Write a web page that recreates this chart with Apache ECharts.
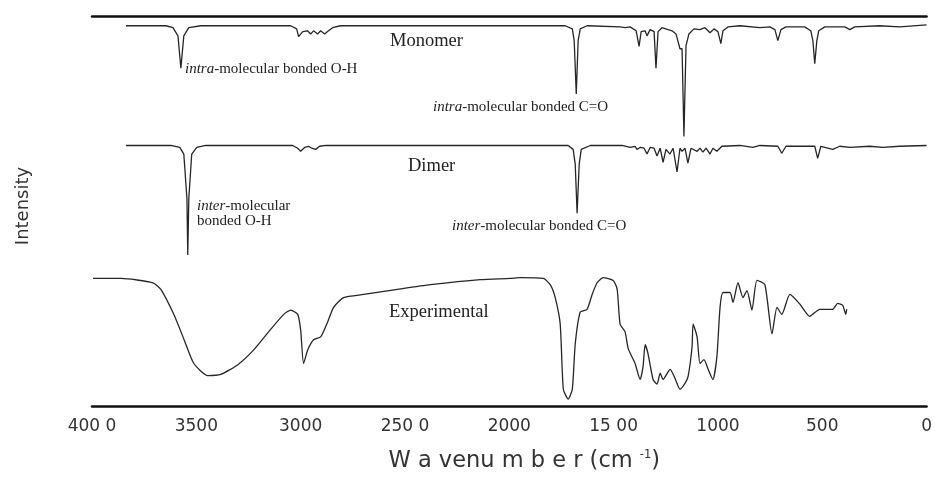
<!DOCTYPE html>
<html>
<head>
<meta charset="utf-8">
<script src="https://cdn.jsdelivr.net/npm/echarts@6/dist/echarts.min.js"></script>
<style>html,body{margin:0;padding:0;background:#fff}#c{width:935px;height:478px}</style>
</head>
<body>
<div id="c"></div>
<script>
// x-axis ticks (wavenumber, cm-1) and the labels as printed in the figure
const tickValues = [0, 500, 1000, 1500, 2000, 2500, 3000, 3500, 4000];
const tickLabels = ['0', '500', '1000', '15 00', '2000', '250 0', '3000', '3500', '400 0'];

// Calculated spectrum: Monomer  [wavenumber, intensity (a.u.)]
const monomer = [
 [3837,97.5],[3646,97.5],[3612,97.0],[3588,94.9],[3574,86.6],[3560,94.9],[3536,97.0],[3478,97.5],
 [3048,97.5],[3019,96.7],[3010,94.7],[2990,96.0],[2967,96.2],[2952,95.4],[2938,96.2],[2919,95.4],
 [2904,96.2],[2885,95.4],[2871,96.0],[2847,97.0],[2809,97.5],
 [1732,97.5],[1698,96.7],[1689,93.7],[1679,80.0],[1670,93.7],[1660,96.7],[1627,97.5],
 [1469,97.2],[1445,97.0],[1421,97.2],[1392,96.2],[1378,92.2],[1368,96.0],[1349,96.2],[1340,94.9],
 [1325,96.5],[1306,96.0],[1297,86.6],[1287,96.0],[1268,97.0],[1239,96.5],[1220,96.2],[1201,95.4],
 [1182,91.6],[1172,91.6],[1163,69.1],[1153,92.4],[1139,95.4],[1115,96.7],[1086,96.5],[1062,97.0],
 [1038,95.7],[1019,96.7],[1000,96.0],[986,92.9],[976,96.2],[952,97.2],[894,97.5],[799,97.0],
 [751,97.2],[727,96.5],[713,93.7],[698,96.5],[674,97.2],[584,97.2],[555,96.2],[545,93.7],
 [536,87.8],[526,93.7],[517,96.2],[488,97.2],[392,97.2],[368,96.5],[344,97.2],[225,97.5],
 [129,97.2],[0,97.7]
];

// Calculated spectrum: Dimer
const dimer = [
 [3837,66.8],[3622,66.8],[3579,66.3],[3560,64.6],[3545,53.2],[3541,38.7],[3536,53.2],[3522,64.6],
 [3498,66.3],[3455,66.8],[3038,66.8],[3014,66.1],[3000,65.3],[2981,66.3],[2962,66.6],[2947,66.1],
 [2928,65.8],[2909,66.6],[2880,66.8],
 [1718,66.8],[1694,65.8],[1684,62.0],[1675,49.4],[1665,62.0],[1655,65.8],[1612,66.8],
 [1459,66.8],[1421,66.3],[1397,66.6],[1388,65.8],[1373,66.3],[1354,66.1],[1340,64.6],[1325,66.3],
 [1306,66.1],[1292,64.1],[1277,66.1],[1263,62.5],[1249,65.8],[1230,64.6],[1215,66.1],[1196,60.0],
 [1182,66.1],[1172,65.3],[1158,66.1],[1144,62.3],[1129,66.1],[1100,65.3],[1086,66.1],[1072,65.1],
 [1057,66.1],[1038,64.6],[1024,66.1],[1005,65.3],[981,66.6],[894,66.8],[833,66.3],[799,66.8],
 [713,66.6],[694,64.8],[674,66.6],[536,66.6],[522,63.5],[507,66.6],[450,65.8],[416,66.6],
 [368,66.3],[273,66.6],[211,66.3],[129,66.6],[0,66.8]
];

// Experimental spectrum
const experimental = [
 [3995,32.7],[3861,32.7],[3708,31.6],[3670,29.9],[3608,23.5],[3560,17.2],[3512,10.9],[3445,7.8],
 [3383,8.1],[3301,10.6],[3225,14.4],[3143,19.7],[3081,23.5],[3048,24.6],[3014,23.5],[3000,19.5],
 [2986,10.9],[2966,14.4],[2938,17.0],[2904,17.7],[2871,21.5],[2842,25.3],[2794,27.8],[2698,28.6],
 [2536,29.9],[2378,31.1],[2139,32.4],[1995,32.7],[1947,32.9],[1837,32.7],[1804,31.1],[1780,27.8],
 [1756,21.0],[1741,4.3],[1718,1.8],[1698,4.3],[1684,15.9],[1660,24.1],[1627,24.8],[1603,28.6],
 [1579,31.6],[1550,32.9],[1502,32.2],[1483,29.9],[1469,21.0],[1445,19.0],[1430,14.7],[1397,10.9],
 [1373,6.8],[1359,10.1],[1349,15.7],[1335,13.4],[1311,6.8],[1292,5.6],[1277,8.4],[1263,6.8],
 [1229,9.4],[1206,7.1],[1182,4.3],[1158,5.8],[1143,7.6],[1124,15.2],[1119,21.0],[1100,17.7],
 [1086,10.9],[1067,11.9],[1047,9.4],[1024,6.8],[1005,12.7],[990,25.3],[976,29.1],[942,29.1],
 [928,26.6],[904,31.6],[880,27.8],[861,29.6],[837,24.6],[813,32.2],[775,31.1],[741,18.5],
 [717,25.3],[694,23.5],[655,28.6],[607,26.1],[560,23.0],[512,24.8],[450,24.8],[426,26.3],
 [402,25.8],[387,23.5],[383,24.8]
];

const chart = echarts.init(document.getElementById('c'), null, {renderer: 'canvas'});
const lineColor = '#262626';
const serif = '"Liberation Serif", "DejaVu Serif", serif';
const sans = '"DejaVu Sans", "Liberation Sans", sans-serif';

function spectrum(name, data, smooth) {
  return {
    name: name, type: 'line', data: data, showSymbol: false, smooth: smooth,
    lineStyle: {color: lineColor, width: 1.3}, silent: true, animation: false
  };
}
function annot(left, top, txt, size) {
  return {type: 'text', left: left, top: top, style: {
    text: txt, fontFamily: serif, fontSize: size, lineHeight: 15, fill: '#222',
    rich: {i: {fontStyle: 'italic', fontFamily: serif, fontSize: size, fill: '#222'}}}};
}

chart.setOption({
  backgroundColor: '#ffffff',
  animation: false,
  grid: {left: 92, right: 7, top: 16, bottom: 67},
  xAxis: [{
    type: 'value', min: 0, max: 4000, interval: 500, inverse: true, position: 'bottom',
    axisLine: {show: true, lineStyle: {color: '#111', width: 2.5}},
    axisTick: {show: false}, splitLine: {show: false},
    axisLabel: {
      show: true, margin: 12, color: '#333', fontFamily: sans, fontSize: 17,
      formatter: function (v) { const i = tickValues.indexOf(v); return i >= 0 ? tickLabels[i] : ''; }
    },
    name: '{t|W a venu m b e r (cm }{s|-1}{t|)}', nameLocation: 'middle', nameGap: 43,
    nameTextStyle: {
      padding: [0, 0, 0, 30],
      rich: {
        t: {fontFamily: sans, fontSize: 22.5, color: '#333'},
        s: {fontFamily: sans, fontSize: 11.5, color: '#333', verticalAlign: 'top', padding: [0, 0, 13, 0]}
      }
    }
  }, {
    type: 'value', min: 0, max: 4000, inverse: true, position: 'top',
    axisLine: {show: true, lineStyle: {color: '#111', width: 2.5}},
    axisTick: {show: false}, axisLabel: {show: false}, splitLine: {show: false}
  }],
  yAxis: {
    type: 'value', min: 0, max: 100,
    axisLine: {show: false}, axisTick: {show: false}, axisLabel: {show: false}, splitLine: {show: false},
    name: 'Intensity', nameLocation: 'middle', nameGap: 60,
    nameTextStyle: {fontFamily: sans, fontSize: 18, color: '#333', padding: [0, 0, 0, 10]}
  },
  series: [
    spectrum('Monomer', monomer, false),
    spectrum('Dimer', dimer, false),
    spectrum('Experimental', experimental, 0.2)
  ],
  graphic: [
    {type: 'text', left: 390, top: 32, style: {text: 'Monomer', fontFamily: serif, fontSize: 18.5, fill: '#222'}},
    annot(185, 62, '{i|intra}-molecular bonded O-H', 15),
    annot(433, 100, '{i|intra}-molecular bonded C=O', 15),
    {type: 'text', left: 408, top: 157, style: {text: 'Dimer', fontFamily: serif, fontSize: 18.5, fill: '#222'}},
    annot(197, 199, '{i|inter}-molecular\nbonded O-H', 15),
    annot(452, 219, '{i|inter}-molecular bonded C=O', 15),
    {type: 'text', left: 389, top: 303, style: {text: 'Experimental', fontFamily: serif, fontSize: 18.5, fill: '#222'}}
  ]
});
</script>
</body>
</html>
